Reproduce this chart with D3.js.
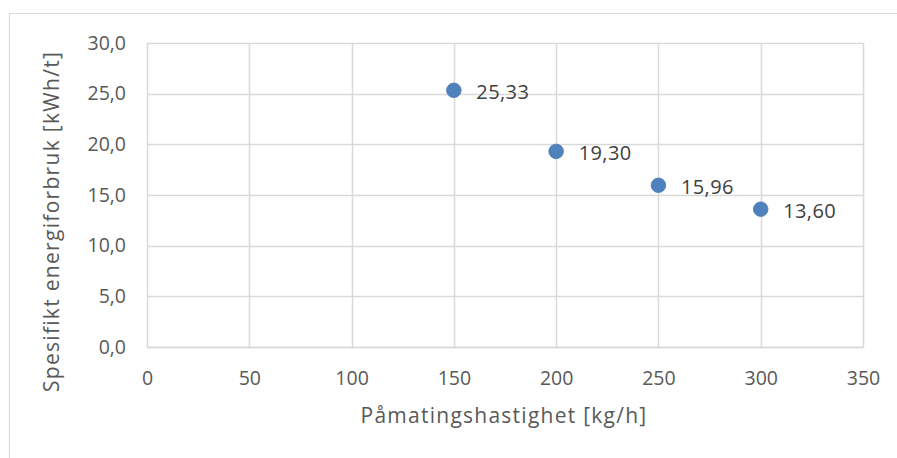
<!DOCTYPE html>
<html>

<head>
    <meta charset='utf-8'>
    <title>Spesifikt energiforbruk</title>
    <script src='https://d3js.org/d3.v7.min.js'></script>
    <style>
        body { margin: 0; background: white; }
        text { font-family: 'Open Sans', 'Noto Sans', sans-serif; }
    </style>
</head>

<body>
    <script>
        // values
        const feedRates = [150, 200, 250, 300];
        const energyUse = [25.33, 19.30, 15.96, 13.60];
        const xTicks = [0, 50, 100, 150, 200, 250, 300, 350];
        const yTicks = [0, 5, 10, 15, 20, 25, 30];

        const width = 897, height = 458;
        const margin = { left: 147, top: 43, right: 897 - 863, bottom: 458 - 347 };

        const fmt1 = d => d3.format('.1f')(d).replace('.', ',');
        const fmt2 = d => d3.format('.2f')(d).replace('.', ',');

        const svg = d3.select('body')
            .append('svg')
            .attr('width', width)
            .attr('height', height);

        // outer chart frame
        svg.append('rect')
            .attr('x', 9.5)
            .attr('y', 13.5)
            .attr('width', width)
            .attr('height', height)
            .attr('fill', 'none')
            .attr('stroke', '#d9d9d9')
            .attr('stroke-width', 1);

        const x = d3.scaleLinear()
            .domain([0, 350])
            .range([margin.left, width - margin.right]);

        const y = d3.scaleLinear()
            .domain([0, 30])
            .range([height - margin.bottom, margin.top]);

        // grid
        svg.append('g')
            .selectAll('line')
            .data(xTicks)
            .join('line')
            .attr('x1', d => Math.round(x(d)) + 0.5)
            .attr('x2', d => Math.round(x(d)) + 0.5)
            .attr('y1', y(30))
            .attr('y2', y(0))
            .attr('stroke', '#d9d9d9')
            .attr('stroke-width', 1.5);

        svg.append('g')
            .selectAll('line')
            .data(yTicks)
            .join('line')
            .attr('x1', x(0))
            .attr('x2', x(350))
            .attr('y1', d => Math.round(y(d)) + 0.5)
            .attr('y2', d => Math.round(y(d)) + 0.5)
            .attr('stroke', '#d9d9d9')
            .attr('stroke-width', 1.5);

        // x axis labels
        const xAxis = svg.append('g')
            .attr('transform', 'translate(0,' + y(0) + ')')
            .call(d3.axisBottom(x).tickValues(xTicks).tickSize(0).tickPadding(24).tickFormat(d => d));
        xAxis.select('.domain').attr('stroke', '#d9d9d9').attr('stroke-width', 1.5);
        xAxis.selectAll('text')
            .attr('font-size', '19.5px')
            .attr('fill', '#595959')
            .attr('font-family', "'Open Sans', sans-serif");

        // y axis labels
        const yAxis = svg.append('g')
            .attr('transform', 'translate(' + x(0) + ',0)')
            .call(d3.axisLeft(y).tickValues(yTicks).tickSize(0).tickPadding(21).tickFormat(fmt1));
        yAxis.select('.domain').remove();
        yAxis.selectAll('text')
            .attr('font-size', '19.5px')
            .attr('fill', '#595959')
            .attr('font-family', "'Open Sans', sans-serif");

        // axis titles
        svg.append('text')
            .attr('x', 504)
            .attr('y', 423)
            .attr('text-anchor', 'middle')
            .attr('font-size', '21px')
            .attr('letter-spacing', '1.25px')
            .attr('fill', '#595959')
            .text('Påmatingshastighet [kg/h]');

        svg.append('text')
            .attr('transform', 'translate(58.5,221.5) rotate(-90)')
            .attr('text-anchor', 'middle')
            .attr('font-size', '21px')
            .attr('letter-spacing', '1.3px')
            .attr('fill', '#595959')
            .text('Spesifikt energiforbruk [kWh/t]');

        const points = feedRates.map((d, i) => ({ x: d, y: energyUse[i] }));

        svg.append('g')
            .selectAll('circle')
            .data(points)
            .join('circle')
            .attr('cx', d => x(d.x))
            .attr('cy', d => y(d.y))
            .attr('r', 7.3)
            .attr('fill', '#4f81bd')
            .attr('stroke', '#4a7ab5')
            .attr('stroke-width', 0.8);

        svg.append('g')
            .selectAll('text')
            .data(points)
            .join('text')
            .attr('x', d => x(d.x) + 22.5)
            .attr('y', d => y(d.y))
            .attr('dy', '0.44em')
            .attr('font-size', '20px')
            .attr('letter-spacing', '0.4px')
            .attr('fill', '#404040')
            .text(d => fmt2(d.y));
    </script>
</body>

</html>
